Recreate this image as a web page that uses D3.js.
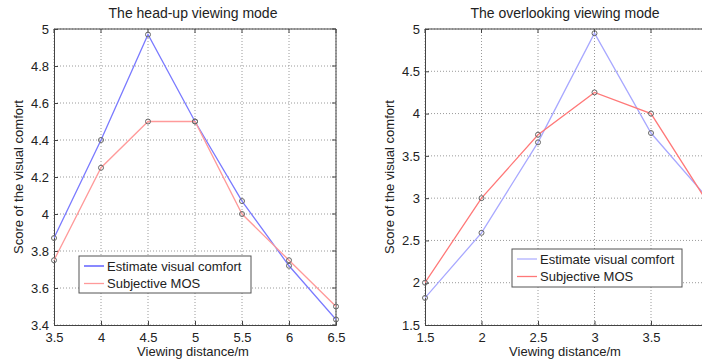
<!DOCTYPE html>
<html><head><meta charset="utf-8">
<script src="https://cdn.jsdelivr.net/npm/d3@7"></script>
<style>body{margin:0;background:#fff}svg{display:block;font-family:"Liberation Sans",Arial,sans-serif}</style>
</head><body><svg id="c" width="702" height="360"></svg>
<script>
// Left panel: head-up viewing mode
const leftX = [3.5, 4, 4.5, 5, 5.5, 6, 6.5];
const leftEstimate = [3.87, 4.40, 4.97, 4.50, 4.07, 3.72, 3.43];
const leftMOS = [3.75, 4.25, 4.50, 4.50, 4.00, 3.75, 3.50];
const leftXTicks = [3.5, 4, 4.5, 5, 5.5, 6, 6.5];
const leftYTicks = [3.4, 3.6, 3.8, 4, 4.2, 4.4, 4.6, 4.8, 5];
// Right panel: overlooking viewing mode
const rightX = [1.5, 2, 2.5, 3, 3.5, 4];
const rightEstimate = [1.82, 2.59, 3.66, 4.95, 3.77, 3.0];
const rightMOS = [2.0, 3.0, 3.75, 4.25, 4.0, 2.95];
const rightXTicks = [1.5, 2, 2.5, 3, 3.5];
const rightYTicks = [1.5, 2, 2.5, 3, 3.5, 4, 4.5, 5];
const seriesNames = ["Estimate visual comfort", "Subjective MOS"];

const svg = d3.select("#c");

function panel(cfg) {
  const g = svg.append("g");
  const x = d3.scaleLinear().domain(cfg.xDomain).range([cfg.left, cfg.right]);
  const y = d3.scaleLinear().domain(cfg.yDomain).range([cfg.bottom, cfg.top]);
  const cp = "clip" + cfg.id;
  svg.append("clipPath").attr("id", cp).append("rect")
    .attr("x", cfg.left).attr("y", cfg.top - 5).attr("width", cfg.right - cfg.left).attr("height", cfg.bottom - cfg.top + 10);
  // grid
  g.append("g").selectAll("line").data(cfg.xTicks).join("line")
    .attr("x1", d => x(d)).attr("x2", d => x(d)).attr("y1", cfg.top).attr("y2", cfg.bottom)
    .attr("stroke", "#9a9a9a").attr("stroke-width", 1).attr("stroke-dasharray", "1,2");
  g.append("g").selectAll("line").data(cfg.yTicks).join("line")
    .attr("x1", cfg.left).attr("x2", cfg.right).attr("y1", d => y(d)).attr("y2", d => y(d))
    .attr("stroke", "#9a9a9a").attr("stroke-width", 1).attr("stroke-dasharray", "1,2");
  // axes via d3 axes (ticks inward)
  const xa = d3.axisBottom(x).tickValues(cfg.xTicks).tickSize(-4).tickPadding(8).tickFormat(d3.format("~g"));
  const ya = d3.axisLeft(y).tickValues(cfg.yTicks).tickSize(-4).tickPadding(5).tickFormat(d3.format("~g"));
  const gx = g.append("g").attr("transform", `translate(0,${cfg.bottom})`).call(xa);
  const gy = g.append("g").attr("transform", `translate(${cfg.left},0)`).call(ya);
  [gx, gy].forEach(a => {
    a.select(".domain").attr("stroke", "#444");
    a.selectAll(".tick line").attr("stroke", "#444");
    a.selectAll("text").attr("font-size", 13).attr("fill", "#222").attr("font-family", '"Liberation Sans",Arial,sans-serif');
  });
  // top & right frame
  g.append("line").attr("x1", cfg.left).attr("x2", cfg.right).attr("y1", cfg.top).attr("y2", cfg.top).attr("stroke", "#444");
  g.append("line").attr("x1", cfg.right).attr("x2", cfg.right).attr("y1", cfg.top).attr("y2", cfg.bottom).attr("stroke", "#444");
  g.append("g").selectAll("line").data(cfg.xTicks).join("line")
    .attr("x1", d => x(d)).attr("x2", d => x(d)).attr("y1", cfg.top).attr("y2", cfg.top + 4).attr("stroke", "#444");
  g.append("g").selectAll("line").data(cfg.yTicks).join("line")
    .attr("x1", cfg.right).attr("x2", cfg.right - 4).attr("y1", d => y(d)).attr("y2", d => y(d)).attr("stroke", "#444");

  const line = d3.line().x(d => x(d[0])).y(d => y(d[1]));
  const series = [
    {vals: cfg.est, color: cfg.blue},
    {vals: cfg.mos, color: cfg.red}
  ];
  const pg = g.append("g").attr("clip-path", `url(#${cp})`);
  series.forEach(s => {
    const pts = cfg.xs.map((v, i) => [v, s.vals[i]]);
    pg.append("path").datum(pts).attr("d", line).attr("fill", "none")
      .attr("stroke", s.color).attr("stroke-width", 1.3);
  });
  series.forEach(s => {
    const pts = cfg.xs.map((v, i) => [v, s.vals[i]]);
    g.append("g").selectAll("circle").data(pts.filter(p => x(p[0]) < 702)).join("circle")
      .attr("cx", d => x(d[0])).attr("cy", d => y(d[1])).attr("r", 2.5)
      .attr("fill", "none").attr("stroke", "#666").attr("stroke-width", 1);
  });
  // title and labels
  g.append("text").attr("x", cfg.titleX).attr("y", 18).attr("text-anchor", "middle")
    .attr("font-size", 14).attr("fill", "#222").text(cfg.title);
  g.append("text").attr("x", cfg.titleX).attr("y", 356).attr("text-anchor", "middle")
    .attr("font-size", 13).attr("fill", "#222").text("Viewing distance/m");
  g.append("text").attr("transform", `translate(${cfg.ylabX},177) rotate(-90)`).attr("text-anchor", "middle")
    .attr("font-size", 13).attr("fill", "#222").text("Score of the visual comfort");
  // legend
  const L = cfg.legend;
  const lg = g.append("g");
  lg.append("rect").attr("x", L.x).attr("y", L.y).attr("width", L.w).attr("height", L.h)
    .attr("fill", "#fff").attr("stroke", "#555").attr("stroke-width", 1);
  [cfg.legBlue, cfg.red].forEach((c, i) => {
    const yy = L.y + 10 + i * 17.5;
    lg.append("line").attr("x1", L.x + 5).attr("x2", L.x + 25).attr("y1", yy).attr("y2", yy)
      .attr("stroke", c).attr("stroke-width", 1.3);
    lg.append("text").attr("x", L.x + 28).attr("y", yy + 4.5).attr("font-size", 13).attr("fill", "#222")
      .text(seriesNames[i]);
  });
}

panel({
  id: "L", left: 54, right: 336, top: 29, bottom: 325,
  xDomain: [3.5, 6.5], yDomain: [3.4, 5],
  xTicks: leftXTicks, yTicks: leftYTicks, xs: leftX, est: leftEstimate, mos: leftMOS,
  blue: "#7a7aff", legBlue: "#4a4aff", red: "#ff9a9a",
  title: "The head-up viewing mode", titleX: 193, ylabX: 23,
  legend: {x: 79, y: 256, w: 172, h: 37}
});
panel({
  id: "R", left: 425, right: 764, top: 29, bottom: 325,
  xDomain: [1.5, 4.5], yDomain: [1.5, 5],
  xTicks: rightXTicks, yTicks: rightYTicks, xs: rightX, est: rightEstimate, mos: rightMOS,
  blue: "#a8a8ff", legBlue: "#b0b0ff", red: "#ff7878",
  title: "The overlooking viewing mode", titleX: 565, ylabX: 394,
  legend: {x: 512, y: 249, w: 170, h: 38}
});
</script></body></html>
